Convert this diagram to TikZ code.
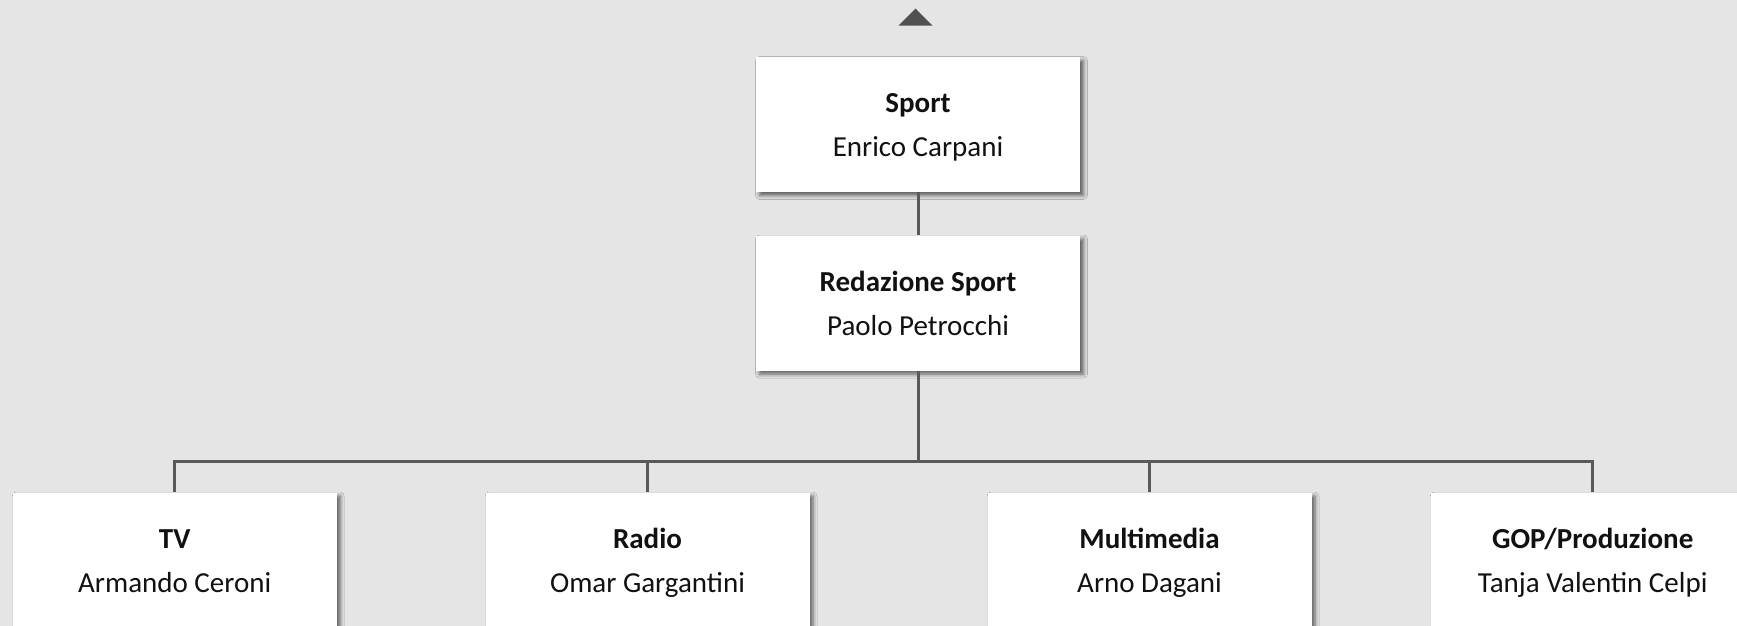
\documentclass[tikz,border=0pt]{standalone}
\usepackage{fontspec}
\setmainfont{Carlito}
\usetikzlibrary{shadows.blur}
\definecolor{bg}{HTML}{E5E5E5}
\definecolor{linec}{HTML}{595959}
\definecolor{txt}{HTML}{111111}
\newcommand{\orgtext}[2]{\rule[-13.2pt]{0pt}{47pt}\textbf{#1}\\#2\strut}
\tikzset{
  orgbox/.style={fill=white, minimum width=324pt, minimum height=135pt, inner sep=0pt,
    align=center, text=txt, font=\fontsize{29}{44}\selectfont,
    blur shadow={shadow xshift=3.5pt, shadow yshift=-3.5pt, shadow blur radius=4pt, shadow opacity=60}},
  conn/.style={draw=linec, line width=3pt}
}
\begin{document}
\begin{tikzpicture}[x=1pt,y=-1pt]
\fill[bg] (0,0) rectangle (1737,626);
\useasboundingbox (0,0) rectangle (1737,626);
\fill[linec!90!black] (898.5,25.7) -- (915.5,8.5) -- (932.5,25.7) -- cycle;
\node[orgbox] (sport) at (918,124.5) {\orgtext{Sport}{Enrico Carpani}};
\node[orgbox] (red) at (918,303) {\orgtext{Redazione Sport}{Paolo Petrocchi}};
\node[orgbox] (tv) at (174.7,560) {\orgtext{TV}{Armando Ceroni}};
\node[orgbox] (radio) at (647.5,560) {\orgtext{Radio}{Omar Gargantini}};
\node[orgbox] (multi) at (1149.5,560) {\orgtext{Multimedia}{Arno Dagani}};
\node[orgbox] (gop) at (1592.7,560) {\orgtext{GOP/Produzione}{Tanja Valentin Celpi}};
\coordinate (bus) at (918,461);
\draw[conn] (sport.south) -- (red.north);
\draw[conn] (red.south) -- (bus);
\draw[conn] (bus) -| (tv.north);
\draw[conn] (bus) -| (radio.north);
\draw[conn] (bus) -| (multi.north);
\draw[conn] (bus) -| (gop.north);
\end{tikzpicture}
\end{document}
